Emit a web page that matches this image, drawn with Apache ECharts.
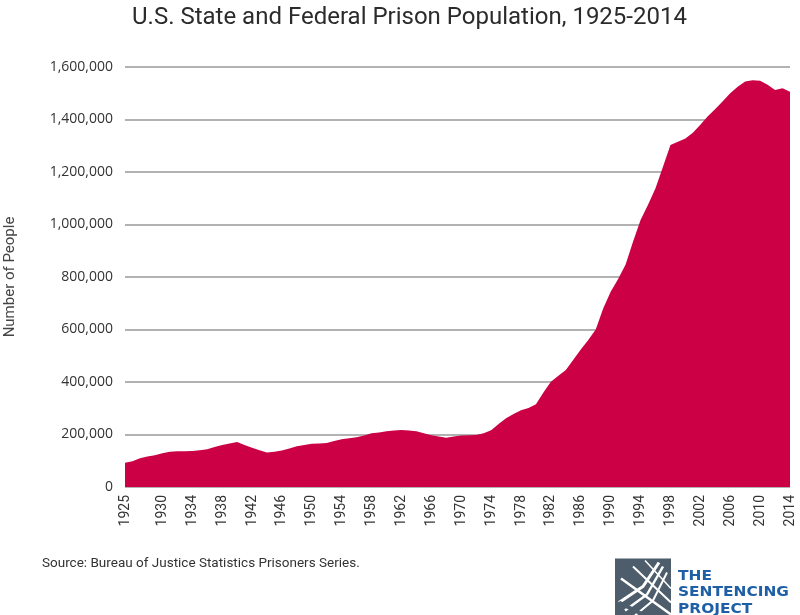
<!DOCTYPE html>
<html>
<head>
<meta charset="utf-8">
<script src="https://cdn.jsdelivr.net/npm/echarts@6/dist/echarts.min.js"></script>
<style>
  html, body { margin: 0; padding: 0; background: #fff; }
  #chart { width: 800px; height: 615px; }
</style>
</head>
<body>
<div id="chart"></div>
<script>
// years 1925-2014
const years = [];
for (let y = 1925; y <= 2014; y++) years.push(String(y));

// prisoners
const prisoners = [
  92000, 98000, 110000, 116000, 121000, 129000, 134000, 136000, 136000, 137000,   // 1925-1934
  140000, 144000, 152000, 160000, 166000, 171000, 160000, 150000, 140000, 131000, // 1935-1944
  134000, 139000, 147000, 155000, 160000, 165000, 166000, 168000, 175000, 182000, // 1945-1954
  186000, 190000, 196000, 205000, 208000, 212000, 215000, 217000, 215000, 212000, // 1955-1964
  205000, 197000, 192000, 188000, 192000, 196000, 197000, 198000, 205000, 216000, // 1965-1974
  240000, 262000, 278000, 292000, 301000, 315000, 360000, 401000, 424000, 446000, // 1975-1984
  485000, 524000, 560000, 600000, 680000, 744000, 792000, 848000, 935000, 1017000, // 1985-1994
  1075000, 1138000, 1220000, 1303000, 1315000, 1328000, 1350000, 1380000, 1412000, 1440000, // 1995-2004
  1470000, 1500000, 1525000, 1545000, 1550000, 1548000, 1532000, 1512000, 1519000, 1506000  // 2005-2014
];

const yTicks = [0, 200000, 400000, 600000, 800000, 1000000, 1200000, 1400000, 1600000];

const chart = echarts.init(document.getElementById('chart'), null, { renderer: 'canvas' });

const option = {
  backgroundColor: '#fff',
  animation: false,
  title: {
    text: 'U.S. State and Federal Prison Population, 1925-2014',
    left: 127,
    top: 1,
    textStyle: { fontFamily: 'Roboto', fontSize: 24, fontWeight: 'normal', color: '#2b2b2b' }
  },
  grid: { left: 125, right: 10, top: 67, bottom: 128, containLabel: false, outerBoundsMode: 'none' },
  xAxis: {
    type: 'category',
    data: years,
    boundaryGap: false,
    axisLine: { show: false },
    axisTick: { show: false },
    axisLabel: {
      rotate: 90,
      margin: 8,
      color: '#333',
      fontFamily: 'Roboto',
      fontSize: 14,
      hideOverlap: false,
      interval: function (i, val) {
        const y = Number(val);
        return y === 1925 || (y >= 1930 && (y - 1930) % 4 === 0);
      }
    }
  },
  yAxis: {
    type: 'value',
    min: 0,
    max: yTicks[yTicks.length - 1],
    interval: 200000,
    name: 'Number of People',
    nameLocation: 'middle',
    nameGap: 107,
    nameTextStyle: { fontFamily: 'Roboto', fontSize: 15, color: '#444' },
    axisLine: { show: false },
    axisTick: { show: false },
    axisLabel: {
      margin: 12,
      color: '#333',
      fontFamily: 'Open Sans',
      fontSize: 14,
      formatter: v => v.toLocaleString('en-US')
    },
    splitLine: { lineStyle: { color: '#999', width: 1.5 } }
  },
  series: [{
    type: 'line',
    data: prisoners,
    symbol: 'none',
    lineStyle: { width: 0 },
    areaStyle: { color: '#cc0044', opacity: 1 },
    z: 3
  }],
  graphic: [
    {
      type: 'text', left: 42, top: 557,
      style: { text: 'Source: Bureau of Justice Statistics Prisoners Series.', font: '13.5px Roboto', fill: '#333' }
    },
    {
      type: 'group', left: 615, top: 558,
      children: [
        { type: 'rect', shape: { x: 0, y: 0, width: 56, height: 57 }, style: { fill: '#4d5d6b' } },
        { type: 'polyline', shape: { points: [[4, 44], [28, 28], [44, 4]] }, style: { stroke: '#fff', lineWidth: 3, fill: null } },
        { type: 'polyline', shape: { points: [[10, 52], [32, 36], [48, 8]] }, style: { stroke: '#fff', lineWidth: 2.5, fill: null } },
        { type: 'polyline', shape: { points: [[20, 57], [38, 42], [52, 14]] }, style: { stroke: '#fff', lineWidth: 2, fill: null } },
        { type: 'line', shape: { x1: 6, y1: 20, x2: 56, y2: 56 }, style: { stroke: '#fff', lineWidth: 2.5 } },
        { type: 'line', shape: { x1: 18, y1: 8, x2: 56, y2: 44 }, style: { stroke: '#fff', lineWidth: 2 } },
        { type: 'line', shape: { x1: 30, y1: 2, x2: 56, y2: 30 }, style: { stroke: '#fff', lineWidth: 1.5 } },
        { type: 'line', shape: { x1: 4, y1: 44, x2: 30, y2: 57 }, style: { stroke: '#4d5d6b', lineWidth: 4 } }
      ]
    },
    {
      type: 'text', x: 678, y: 568, scaleX: 1.1,
      style: {
        text: 'THE\nSENTENCING\nPROJECT',
        fontFamily: 'DejaVu Sans', fontWeight: 'bold', fontSize: 14,
        fill: '#1f5fa6', lineHeight: 16.5
      }
    }
  ]
};

chart.setOption(option);
</script>
</body>
</html>
